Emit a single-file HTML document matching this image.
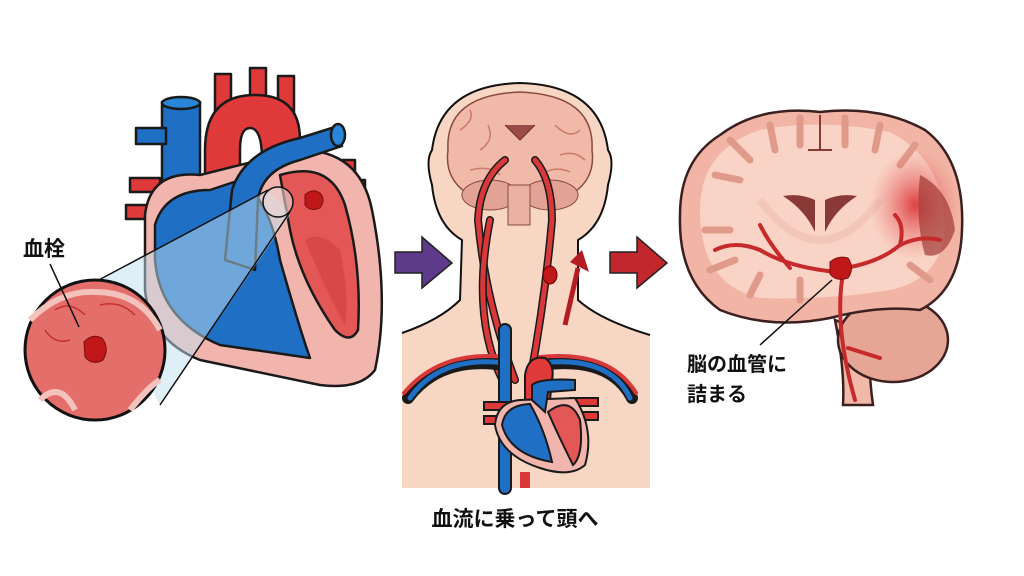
<!DOCTYPE html>
<html><head><meta charset="utf-8"><style>
html,body{margin:0;padding:0;background:#fff;}
svg{display:block}
text{font-family:"Liberation Sans","Noto Sans CJK JP",sans-serif;font-weight:bold;fill:#111}
</style></head><body>
<svg width="1024" height="576" viewBox="0 0 1024 576" xmlns="http://www.w3.org/2000/svg">
<defs>
<radialGradient id="inf" cx="0.5" cy="0.5" r="0.5"><stop offset="0" stop-color="#d9262a" stop-opacity="0.85"/><stop offset="1" stop-color="#e87070" stop-opacity="0"/></radialGradient>
</defs>
<rect width="1024" height="576" fill="#fff"/>

<!-- ================= HEART (left) ================= -->
<g stroke="#1a1a1a" stroke-width="2.5" stroke-linejoin="round">
  <rect x="130" y="178" width="30" height="14" fill="#e0393a"/>
  <rect x="126" y="205" width="30" height="14" fill="#e0393a"/>
  <rect x="325" y="160" width="30" height="14" fill="#e0393a"/>
  <rect x="335" y="180" width="30" height="14" fill="#e0393a"/>
  <rect x="215" y="74" width="16" height="40" fill="#e0393a"/>
  <rect x="250" y="68" width="16" height="40" fill="#e0393a"/>
  <rect x="278" y="76" width="16" height="40" fill="#e0393a"/>
  <path d="M205,250 L205,150 Q205,95 255,95 Q300,95 300,140 L300,160 L262,160 Q262,128 250,128 Q240,128 240,150 L240,250 Z" fill="#e0393a"/>
  <rect x="162" y="102" width="38" height="230" fill="#1f6fc4"/>
  <ellipse cx="181" cy="103" rx="19" ry="6" fill="#2a86d8"/>
  <rect x="136" y="128" width="30" height="16" fill="#1f6fc4"/>
  <path d="M145,215 Q150,170 200,175 L300,150 Q360,150 372,210 Q390,300 375,370 Q360,390 320,385 L200,360 Q150,340 145,290 Z" fill="#f2b5ae"/>
  <path d="M155,225 Q165,190 210,190 L240,180 Q270,200 280,260 Q300,330 310,358 L220,345 Q160,320 155,260 Z" fill="#1f6fc4"/>
  <path d="M225,260 L232,190 Q245,150 300,138 L338,126 L342,146 L300,160 Q262,170 258,200 L255,270 Z" fill="#1f6fc4"/>
  <ellipse cx="338" cy="135" rx="7" ry="11" fill="#2a86d8"/>
  <path d="M280,175 Q330,160 345,205 Q362,265 358,330 Q350,345 335,330 Q300,280 290,230 Z" fill="#e35757"/>
  <path d="M305,240 Q320,230 340,250 Q350,300 345,325 Q330,300 305,240 Z" fill="#d94848" stroke="none"/>
</g>
<path d="M305,195 Q312,188 320,193 Q326,200 320,208 Q310,212 305,205 Z" fill="#c01818" stroke="#7a0e0e" stroke-width="1"/>
<path d="M268,190 L95,282 L160,405 L290,215 Z" fill="#bfe0f2" fill-opacity="0.5"/>
<line x1="268" y1="190" x2="95" y2="282" stroke="#111" stroke-width="1.5"/>
<line x1="290" y1="212" x2="160" y2="405" stroke="#111" stroke-width="1.5"/>
<circle cx="278" cy="202" r="15" fill="#e8d7d6" fill-opacity="0.6" stroke="#111" stroke-width="1.5"/>
<circle cx="95" cy="350" r="70" fill="#e46e6a" stroke="#111" stroke-width="3"/>
<path d="M30,320 Q60,290 95,292 Q140,292 160,330" fill="none" stroke="#f4c2bc" stroke-width="6"/>
<path d="M40,400 Q60,380 75,410 M130,410 Q150,385 160,380" fill="none" stroke="#f4c2bc" stroke-width="6"/>
<path d="M55,310 Q70,300 85,315 M100,305 Q120,300 135,315 M45,330 Q55,345 70,340" fill="none" stroke="#c53030" stroke-width="1.5"/>
<path d="M84,342 Q92,333 102,338 Q110,348 103,360 Q92,366 85,357 Z" fill="#c01818" stroke="#7a0e0e" stroke-width="1"/>
<line x1="50" y1="264" x2="79" y2="327" stroke="#111" stroke-width="1.5"/>
<text x="23" y="256" font-size="21">血栓</text>

<!-- ================= ARROWS ================= -->
<path d="M395,252 L422,252 L422,237 L452,263 L422,288 L422,273 L395,273 Z" fill="#5e3a8a" stroke="#222" stroke-width="1.5"/>
<path d="M610,252 L637,252 L637,237 L667,263 L637,288 L637,273 L610,273 Z" fill="#c1272d" stroke="#222" stroke-width="1.5"/>

<!-- ================= BODY (middle) ================= -->
<path d="M402,488 L402,333 Q440,320 460,300 L462,240 Q436,225 432,185 Q425,160 432,150 Q440,85 520,83 Q600,85 608,150 Q615,160 608,185 Q604,225 578,240 L578,300 Q600,320 650,335 L650,488 Z" fill="#f7d6c3"/>
<path d="M402,333 Q440,320 460,300 L462,240 Q436,225 432,185 Q425,160 432,150 Q440,85 520,83 Q600,85 608,150 Q615,160 608,185 Q604,225 578,240 L578,300 Q600,320 650,335" fill="none" stroke="#111" stroke-width="2"/>
<path d="M448,150 Q445,95 520,92 Q595,95 592,150 Q596,180 570,195 L470,195 Q444,180 448,150 Z" fill="#f1b9a8" stroke="#8a4a40" stroke-width="1.5"/>
<g fill="none" stroke="#c97a6a" stroke-width="1.5">
<path d="M460,130 Q475,120 470,110 M480,150 Q495,140 488,125 M555,125 Q570,140 580,130 M560,155 Q575,150 585,160 M470,170 Q490,165 500,175 M540,175 Q555,165 570,172"/>
</g>
<ellipse cx="490" cy="195" rx="28" ry="15" fill="#e3a394" stroke="#8a4a40"/>
<ellipse cx="550" cy="195" rx="28" ry="15" fill="#e3a394" stroke="#8a4a40"/>
<rect x="508" y="185" width="22" height="40" fill="#eab2a0" stroke="#8a4a40"/>
<path d="M505,125 L520,140 L535,125" fill="#9c4c48" stroke="#6b2a28"/>
<g fill="none" stroke-linecap="round">
<path d="M515,380 Q485,300 478,220 Q480,180 505,160" stroke="#1a1a1a" stroke-width="8"/>
<path d="M515,380 Q485,300 478,220 Q480,180 505,160" stroke="#d8383a" stroke-width="5"/>
<path d="M530,380 Q545,300 552,220 Q552,180 535,160" stroke="#1a1a1a" stroke-width="8"/>
<path d="M530,380 Q545,300 552,220 Q552,180 535,160" stroke="#d8383a" stroke-width="5"/>
<path d="M505,385 Q470,320 490,220" stroke="#1a1a1a" stroke-width="8"/>
<path d="M505,385 Q470,320 490,220" stroke="#d8383a" stroke-width="5"/>
<path d="M505,365 Q440,355 408,398" stroke="#1a1a1a" stroke-width="12"/>
<path d="M505,363 Q440,355 410,398" stroke="#1f6fc4" stroke-width="5"/>
<path d="M505,357 Q440,350 404,393" stroke="#d8383a" stroke-width="4"/>
<path d="M540,365 Q610,355 632,398" stroke="#1a1a1a" stroke-width="12"/>
<path d="M540,363 Q610,355 630,398" stroke="#1f6fc4" stroke-width="5"/>
<path d="M540,357 Q610,350 636,393" stroke="#d8383a" stroke-width="4"/>
<path d="M505,330 L505,488" stroke="#1a1a1a" stroke-width="14"/>
<path d="M505,330 L505,488" stroke="#1f6fc4" stroke-width="10"/>
</g>
<ellipse cx="550" cy="275" rx="7" ry="9" fill="#c01818" stroke="#600" stroke-width="1"/>
<path d="M565,325 L578,268" stroke="#b41c22" stroke-width="5"/>
<path d="M570,262 L582,250 L589,272 Z" fill="#b41c22"/>
<g stroke="#1a1a1a" stroke-width="2">
<rect x="484" y="402" width="30" height="8" fill="#e0393a"/>
<rect x="484" y="416" width="30" height="8" fill="#e0393a"/>
<rect x="570" y="398" width="28" height="8" fill="#e0393a"/>
<rect x="570" y="412" width="28" height="8" fill="#e0393a"/>
<path d="M525,400 L525,375 Q528,355 545,358 Q555,365 552,380 L550,400 Z" fill="#e0393a"/>
<path d="M495,425 Q497,402 520,400 L575,398 Q595,430 585,465 Q570,478 540,468 Q500,455 495,425 Z" fill="#f2b5ae"/>
<path d="M502,425 Q505,405 530,404 Q545,430 552,462 Q510,455 502,425 Z" fill="#1f6fc4"/>
<path d="M532,400 L532,385 Q540,378 575,380 L575,390 L548,392 L545,412 Z" fill="#1f6fc4"/>
<path d="M548,412 Q570,395 580,420 Q584,455 573,465 Q558,435 548,412 Z" fill="#e35757"/>
</g>
<rect x="520" y="472" width="10" height="16" fill="#d8383a"/>
<text x="515" y="526" font-size="21" text-anchor="middle">血流に乗って頭へ</text>

<!-- ================= BRAIN (right) ================= -->
<g stroke="#3a2020" stroke-width="2.5">
<path d="M835,320 Q845,370 843,405 L873,405 Q868,370 870,335 Z" fill="#f1b9a8"/>
<ellipse cx="893" cy="340" rx="55" ry="42" fill="#e7a595"/>
<path d="M820,112 Q760,105 720,135 Q680,160 680,215 Q678,280 720,310 Q770,330 830,318 Q880,305 920,310 Q960,290 962,230 Q965,160 925,130 Q880,105 820,112 Z" fill="#f2b4a4"/>
</g>
<path d="M700,210 Q700,150 760,130 Q820,118 890,132 Q945,160 945,230 Q940,280 890,290 Q830,300 760,298 Q700,285 700,210 Z" fill="#f9d3c5"/>
<g fill="none" stroke="#e09a8a" stroke-width="7" stroke-linecap="round">
<path d="M715,175 L740,180 M730,140 L750,160 M770,125 L775,150 M800,118 L800,145 M845,118 L845,145 M880,125 L875,150 M915,145 L900,165 M705,230 L730,230 M710,270 L735,260 M750,295 L760,275 M800,300 L800,280 M930,280 L910,265"/>
</g>
<g fill="none" stroke="#f0c4b6" stroke-width="8" opacity="0.8">
<path d="M760,200 Q790,240 820,240 Q850,240 880,200"/>
</g>
<ellipse cx="915" cy="205" rx="45" ry="55" fill="url(#inf)"/>
<path d="M920,175 Q950,190 955,230 Q945,260 925,255 Q915,220 920,175 Z" fill="#a33a36" fill-opacity="0.7"/>
<path d="M783,196 Q800,193 815,200 L815,232 Q805,210 783,196 Z" fill="#8a3a36"/>
<path d="M857,196 Q840,193 825,200 L825,232 Q835,210 857,196 Z" fill="#8a3a36"/>
<path d="M820,115 L820,150 M808,150 L832,150" stroke="#8a3a36" stroke-width="2" fill="none"/>
<g fill="none" stroke="#c72a2a" stroke-width="4" stroke-linecap="round">
<path d="M838,272 Q790,268 760,250 Q735,240 715,250"/>
<path d="M790,268 Q770,245 760,225"/>
<path d="M845,268 Q880,262 900,245 Q920,235 940,240"/>
<path d="M900,245 Q905,225 895,215"/>
<path d="M842,280 Q835,330 855,400"/>
<path d="M848,348 L880,358"/>
</g>
<path d="M830,262 Q838,255 848,258 Q855,268 848,278 Q836,282 830,274 Z" fill="#c01818" stroke="#7a0e0e" stroke-width="1"/>
<line x1="832" y1="280" x2="760" y2="345" stroke="#111" stroke-width="1.5"/>
<text x="687" y="371" font-size="20">脳の血管に</text>
<text x="687" y="401" font-size="20">詰まる</text>
</svg>
</body></html>
